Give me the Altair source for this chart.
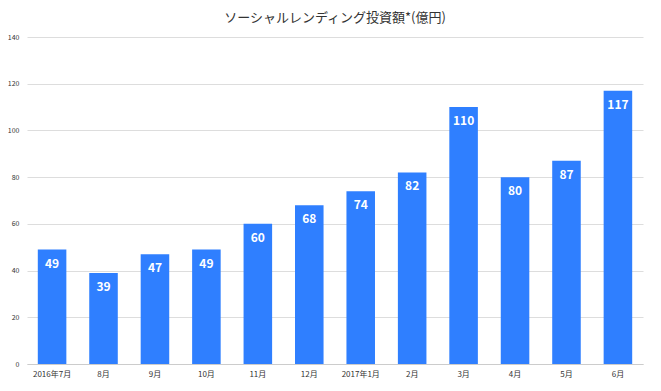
import altair as alt
import pandas as pd

months = ["2016年7月", "8月", "9月", "10月", "11月", "12月", "2017年1月", "2月", "3月", "4月", "5月", "6月"]
values = [49, 39, 47, 49, 60, 68, 74, 82, 110, 80, 87, 117]

df = pd.DataFrame({"month": months, "value": values})
FONT = "Noto Sans CJK JP"

x = alt.X("month:N", sort=months, title=None,
          scale=alt.Scale(paddingInner=0.445, paddingOuter=0.21),
          axis=alt.Axis(labelAngle=0, labelFontSize=8, labelColor="#333333", labelFont=FONT,
                        domainColor="#cccccc", ticks=False, labelPadding=6))
y = alt.Y("value:Q", title=None,
          scale=alt.Scale(domain=[0, 140]),
          axis=alt.Axis(values=list(range(0, 141, 20)), labelFontSize=7, labelColor="#333333",
                        labelFont=FONT, domain=False, ticks=False, gridColor="#dddddd",
                        labelPadding=8))

bars = alt.Chart(df).mark_bar(color="#2f7fff").encode(x=x, y=y)
text = alt.Chart(df).mark_text(color="white", fontWeight="bold", fontSize=12, dy=14, font=FONT).encode(
    x=alt.X("month:N", sort=months), y="value:Q", text="value:Q")

chart = (bars + text).properties(
    width=616, height=327,
    title=alt.TitleParams("ソーシャルレンディング投資額*(億円)", fontSize=13, font=FONT,
                          fontWeight="normal", color="#333333", offset=8),
    padding={"left": 19, "top": 29, "right": 10, "bottom": 27},
    autosize=alt.AutoSizeParams(type="none"),
).configure_view(stroke=None)

chart.save("out.html", embed_options={"renderer": "svg", "actions": False})
